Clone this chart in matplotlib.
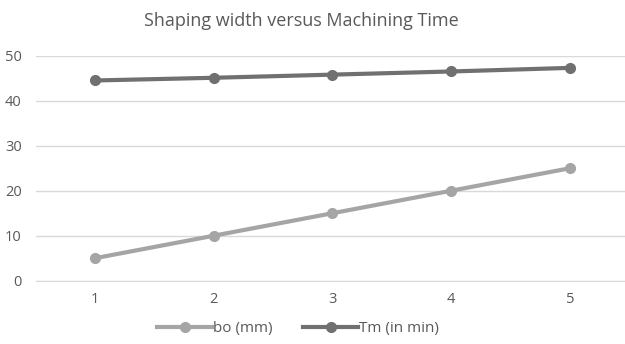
import matplotlib
matplotlib.use("Agg")
import matplotlib.pyplot as plt

# chart data
x_labels = [1, 2, 3, 4, 5]
bo_mm = [5, 10, 15, 20, 25]
tm_min = [44.5, 45.1, 45.8, 46.5, 47.3]

plt.rcParams['font.family'] = ['Open Sans', 'DejaVu Sans']
text_col = '#595959'

fig = plt.figure(figsize=(6.25, 3.44), dpi=100)
ax = fig.add_axes([0.057, 0.184, 0.95, 0.654])

ax.plot(x_labels, bo_mm, color='#A5A5A5', lw=3, marker='o', ms=7, label='bo (mm)')
ax.plot(x_labels, tm_min, color='#707070', lw=3, marker='o', ms=7, label='Tm (in min)')

ax.set_xlim(0.5, 5.5)
ax.set_ylim(0, 50)
ax.set_yticks(range(0, 51, 10))
ax.set_xticks(x_labels)
ax.grid(axis='y', color='#D9D9D9', lw=1)
ax.set_axisbelow(True)
for s in ['top', 'right', 'left']:
    ax.spines[s].set_visible(False)
ax.spines['bottom'].set_color('#D9D9D9')
ax.tick_params(length=0, colors=text_col, labelsize=10.5)
ax.tick_params(axis='x', pad=8)
ax.tick_params(axis='y', pad=10)

fig.text(0.482, 0.94, 'Shaping width versus Machining Time', ha='center', va='center',
         fontsize=13, color=text_col)
fig.legend(loc='center', bbox_to_anchor=(0.477, 0.045), ncol=2, frameon=False,
           fontsize=11, labelcolor=text_col, handlelength=3.6, handletextpad=0.05,
           columnspacing=2.0)

fig.savefig('out.png', dpi=100)
